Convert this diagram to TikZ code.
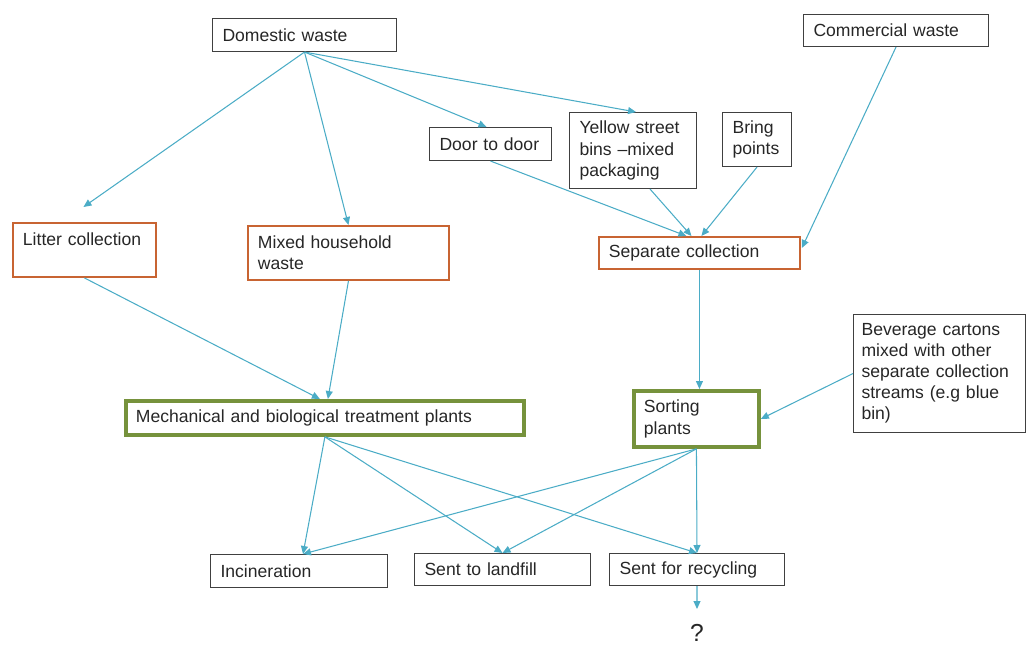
\documentclass[tikz,border=0pt]{standalone}
\usepackage{fontspec}
\setmainfont{Liberation Sans}
\usetikzlibrary{calc,arrows.meta}
\definecolor{flowblue}{RGB}{75,172,198}
\definecolor{boxorange}{RGB}{200,100,50}
\definecolor{boxgreen}{RGB}{118,146,60}
\tikzset{
  box/.style={draw=black!75, line width=0.6pt, anchor=north west, inner xsep=0.2cm,
    inner ysep=0.08cm, align=left, text=black!85, font=\fontsize{10}{12}\selectfont},
  orangebox/.style={box, draw=boxorange, line width=1.1pt},
  greenbox/.style={box, draw=boxgreen, line width=2.2pt},
  flow/.style={draw=flowblue, line width=0.6pt, -{Triangle[length=1.6mm,width=1.4mm]}}
}

\begin{document}
\begin{tikzpicture}[x=0.02cm, y=-0.02cm]
		%%%%% START %%%%%
		\useasboundingbox (0,0) rectangle (1027,646);
		
		\node[box, text width=3.28cm, minimum height=0.66cm] (domestic) at (212,18) {Domestic waste};
		\node[box, text width=3.30cm, minimum height=0.64cm] (commercial) at (803,14) {Commercial waste};
		\node[box, text width=2.04cm, minimum height=0.66cm] (door) at (429,127) {Door to door};
		\node[box, text width=2.14cm, minimum height=1.52cm] (yellow) at (569,112) {Yellow street\\bins --mixed\\packaging};
		\node[box, text width=0.98cm, minimum height=1.08cm] (bring) at (722,112) {Bring\\points};
		
		\node[orangebox, text width=3.62cm, minimum height=0.64cm] (separate) at (598,236) {Separate collection};
		\node[orangebox, text width=2.46cm, inner ysep=0.1cm, text height=0.36cm, text depth=0.52cm] (litter) at (12,222) {Litter collection};
		\node[orangebox, text width=3.62cm, minimum height=1.08cm] (mixed) at (247,225) {Mixed household\\waste};
		
		\node[greenbox, text width=7.56cm, minimum height=0.68cm] (mbt) at (124,399) {Mechanical and biological treatment plants};
		\node[greenbox, text width=2.10cm, minimum height=1.12cm] (sorting) at (632,389) {Sorting\\plants};
		\node[box, inner xsep=0.16cm, text width=3.12cm, minimum height=2.36cm] (cartons) at (853,314) {Beverage cartons\\mixed with other\\separate collection\\streams (e.g blue\\bin)};
		
		\node[box, text width=3.14cm, minimum height=0.66cm] (incineration) at (210,554) {Incineration};
		\node[box, text width=3.12cm, minimum height=0.64cm] (landfill) at (414,553) {Sent to landfill};
		\node[box, text width=3.10cm, minimum height=0.64cm] (recycling) at (609,553) {Sent for recycling};
		\node[inner sep=0, anchor=north, text=black!85, font=\fontsize{14}{16}\selectfont] (unknown) at (697,624) {?};
		
		\draw[flow] (domestic.south) -- ($(litter.north)+(-1,-15)$);
		\draw[flow] (domestic.south) -- (mixed.north);
		\draw[flow] (domestic.south) -- ($(door.north)+(-4,0)$);
		\draw[flow] (domestic.south) -- ($(yellow.north)+(3,0)$);
		
		\draw[flow] (door.south) -- ($(separate.north)+(-13,0)$);
		\draw[flow] ($(yellow.south)+(17,0)$) -- ($(separate.north)+(-8,0)$);
		\draw[flow] (bring.south) -- ($(separate.north)+(2,0)$);
		\draw[flow] (commercial.south) -- ($(separate.east)+(1,-5)$);
		
		\draw[flow] (separate.south) -- (separate.south |- sorting.north);
		\draw[flow] (cartons.west) -- (sorting.east);
		\draw[flow] (litter.south) -- ($(mbt.north)+(-5,0)$);
		\draw[flow] (mixed.south) -- ($(mbt.north)+(3,0)$);
		
		\draw[flow] (mbt.south) -- ($(incineration.north)+(4,0)$);
		\draw[flow] (mbt.south) -- (landfill.north);
		\draw[flow] (mbt.south) -- (recycling.north);
		\draw[flow] (sorting.south) -- ($(incineration.north)+(4,0)$);
		\draw[flow] (sorting.south) -- (landfill.north);
		\draw[flow] (sorting.south) -- (recycling.north);
		
		\draw[flow] (recycling.south) -- ($(unknown.north)+(0,-15)$);
		%%%%% END %%%%%
\end{tikzpicture}
\end{document}
